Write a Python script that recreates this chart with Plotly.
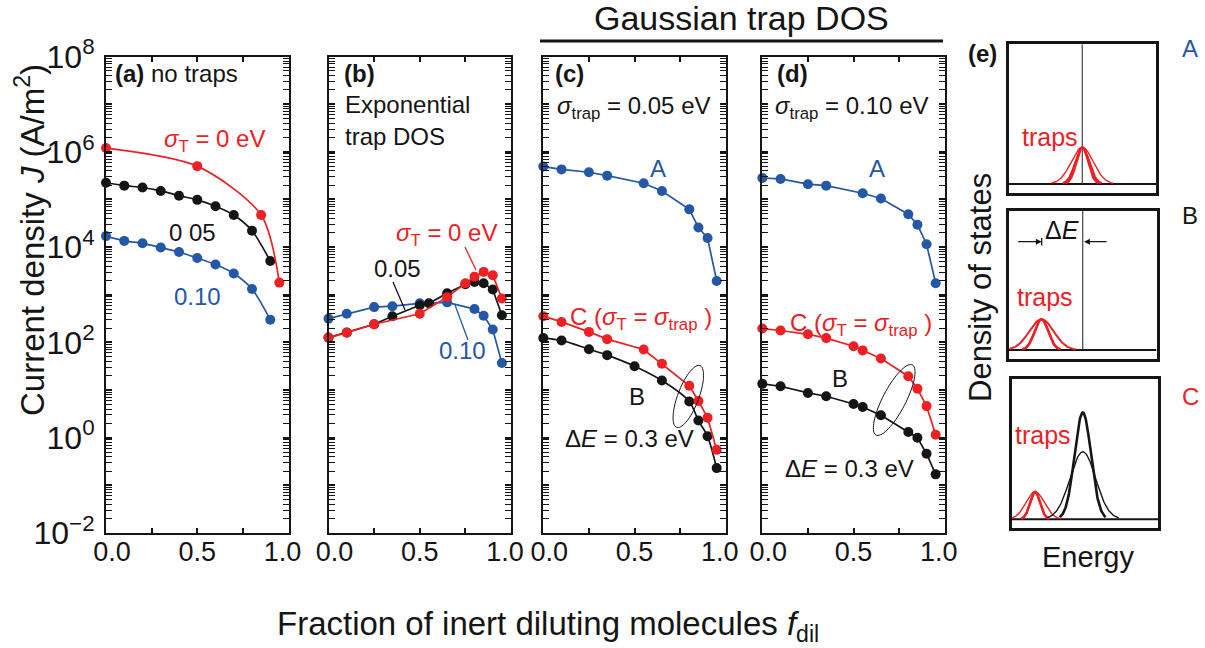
import numpy as np
import plotly.graph_objects as go

W, H = 1205, 648
FONT = "Liberation Sans, Arial, Helvetica, sans-serif"
RED = "#ED2024"
BLUE = "#2457A6"
BLACK = "#151515"

# ---------------- data: current density J (A/m^2) vs dilution fraction ----------------
# (a) no traps
f_a_red = [0.0, 0.5, 0.85, 0.95]
J_a_red = [1.2e6, 5.0e5, 4.7e4, 1.8e3]
f_a = [0.0, 0.1, 0.2, 0.3, 0.4, 0.5, 0.6, 0.7, 0.8, 0.9]
J_a_black = [2.24e5, 1.95e5, 1.78e5, 1.51e5, 1.20e5, 9.8e4, 7.2e4, 4.7e4, 2.2e4, 5.1e3]
J_a_blue = [1.70e4, 1.35e4, 1.20e4, 9.8e3, 7.9e3, 5.9e3, 4.3e3, 2.8e3, 1.32e3, 3.0e2]

# (b) exponential trap DOS
f_b_red = [0.0, 0.1, 0.25, 0.5, 0.65, 0.75, 0.8, 0.85, 0.9, 0.95]
J_b_red = [126, 160, 240, 398, 891, 1740, 2400, 3020, 2570, 832]
f_b_black = [0.0, 0.1, 0.25, 0.35, 0.5, 0.55, 0.65, 0.75, 0.8, 0.85, 0.9, 0.95]
J_b_black = [126, 162, 240, 355, 603, 661, 1070, 1660, 1860, 1740, 1290, 372]
f_b_blue = [0.0, 0.1, 0.25, 0.35, 0.5, 0.65, 0.8, 0.85, 0.9, 0.95]
J_b_blue = [316, 398, 550, 575, 661, 692, 501, 363, 186, 37]

# (c) Gaussian traps, sigma_trap = 0.05 eV
f_c_A = [0.0, 0.1, 0.25, 0.35, 0.55, 0.65, 0.8, 0.85, 0.9, 0.95]
J_c_A = [4.9e5, 4.27e5, 3.72e5, 3.16e5, 2.19e5, 1.51e5, 6.2e4, 2.57e4, 1.55e4, 1.95e3]
f_c_C = [0.0, 0.1, 0.25, 0.35, 0.55, 0.65, 0.8, 0.85, 0.9, 0.95]
J_c_C = [355, 269, 166, 117, 71, 35.5, 12.3, 5.9, 2.63, 0.56]
f_c_B = [0.0, 0.1, 0.25, 0.35, 0.5, 0.65, 0.8, 0.85, 0.9, 0.95]
J_c_B = [123, 110, 72, 54, 31.6, 15.8, 5.75, 2.29, 1.07, 0.23]

# (d) Gaussian traps, sigma_trap = 0.10 eV
f_d_A = [0.0, 0.1, 0.25, 0.35, 0.55, 0.65, 0.8, 0.85, 0.9, 0.95]
J_d_A = [2.82e5, 2.69e5, 2.09e5, 1.95e5, 1.35e5, 1.05e5, 4.9e4, 2.95e4, 1.15e4, 1.74e3]
f_d = [0.0, 0.1, 0.25, 0.35, 0.5, 0.55, 0.65, 0.8, 0.85, 0.9, 0.95]
J_d_C = [195, 178, 148, 123, 83, 68, 46, 19.5, 10.7, 4.6, 1.15]
J_d_B = [13.5, 12.0, 8.7, 7.4, 5.1, 4.4, 2.95, 1.32, 1.0, 0.46, 0.17]

# axis ticks
x_tickvals = [0.0, 0.25, 0.5, 0.75, 1.0]
x_label_vals = [0.0, 0.5, 1.0]
x_label_text = ["0.0", "0.5", "1.0"]
x_label_shift = [6, 0, -6]   # end labels sit just inside the frame
y_exponents = list(range(-2, 9))
y_tickvals = [10.0 ** e for e in y_exponents]
y_ticktext = [("10<sup>%s</sup>" % str(e).replace("-", "\u2212")) if e % 2 == 0 else ""
              for e in y_exponents]
y_minor = [k * 10.0 ** e for e in range(-2, 8) for k in range(2, 10)]

# (e) schematic densities of states (normalised energy, peak heights)
trap_center = [0.50, 0.22, 0.16]
trap_height = [0.262, 0.221, 0.196]
trap_sigma_narrow = [0.040, 0.046, 0.034]
trap_sigma_mid = [0.047, 0.046, 0.034]
trap_sigma_wide = [0.075, 0.083, 0.063]
host_center_C = 0.486
host_height_C = [0.763, 0.482]
host_sigma_C = [0.056, 0.0875]
level_E = [0.50, 0.50]  # transport level in boxes A and B

# ---------------- layout geometry ----------------
panel_left = [106.0, 328.5, 543.3, 762.3]
panel_w = 182.5
panel_top, panel_bot = 56.5, 533.0


def px(x):
    return x / W


def py(y):
    return 1 - y / H


fig = go.Figure()
layout = dict(
    width=W, height=H, margin=dict(l=0, r=0, t=0, b=0, autoexpand=False),
    paper_bgcolor="white", plot_bgcolor="white", showlegend=False,
    font=dict(family=FONT, color=BLACK),
)

XFONT = dict(size=27, family=FONT, color=BLACK)
label_axes = []
next_axis = 8
for i, left in enumerate(panel_left):
    n = "" if i == 0 else str(i + 1)
    dom = [px(left), px(left + panel_w)]
    layout["xaxis" + n] = dict(
        domain=dom, range=[0, 1], anchor="y" + n,
        tickmode="array", tickvals=x_tickvals, showticklabels=False,
        ticks="inside", ticklen=5, tickwidth=1.5, tickcolor=BLACK,
        showline=True, linewidth=2, linecolor=BLACK, mirror="allticks",
        showgrid=False, zeroline=False, automargin=False,
    )
    # tick labels, each on a label-only overlay axis so it can be nudged
    for v, txt, shift in zip(x_label_vals, x_label_text, x_label_shift):
        layout["xaxis%d" % next_axis] = dict(
            domain=dom, range=[0, 1], anchor="y" + n, overlaying="x" + n,
            side="bottom", tickmode="array", tickvals=[v], ticktext=[txt],
            ticks="", ticklabelshift=shift, showline=False, showgrid=False,
            zeroline=False, tickfont=XFONT, automargin=False, fixedrange=True)
        label_axes.append(("x%d" % next_axis, "y" + n))
        next_axis += 1
    layout["yaxis" + n] = dict(
        domain=[py(panel_bot), py(panel_top)], type="log", range=[-2, 8],
        anchor="x" + n, tickmode="array", tickvals=y_tickvals,
        ticktext=y_ticktext, showticklabels=(i == 0),
        ticks="inside", ticklen=6, tickwidth=1.5, tickcolor=BLACK,
        minor=dict(tickmode="array", tickvals=y_minor, ticks="inside",
                   ticklen=3, tickwidth=1, tickcolor=BLACK, showgrid=False),
        showline=True, linewidth=2, linecolor=BLACK, mirror="allticks",
        showgrid=False, zeroline=False, tickfont=dict(size=32, family=FONT),
        ticklabelstandoff=3, automargin=False,
    )

# empty traces so the label-only axes are laid out
for xa, ya in label_axes:
    fig.add_trace(go.Scatter(x=[], y=[], xaxis=xa, yaxis=ya, mode="lines",
                             hoverinfo="skip"))

# (e) boxes
box_x = [(1008.5, 1156.0), (1009.0, 1156.5), (1011.7, 1158.0)]
box_y = [(44.3, 193.0), (211.0, 359.0), (379.3, 528.3)]
for j in range(3):
    n = str(5 + j)
    layout["xaxis" + n] = dict(
        domain=[px(box_x[j][0]), px(box_x[j][1])], range=[0, 1], anchor="y" + n,
        showticklabels=False, ticks="", showline=True, linewidth=2.5,
        linecolor=BLACK, mirror=True, showgrid=False, zeroline=False,
        automargin=False)
    layout["yaxis" + n] = dict(
        domain=[py(box_y[j][1]), py(box_y[j][0])], range=[-0.065, 1], anchor="x" + n,
        showticklabels=False, ticks="", showline=True, linewidth=2.5,
        linecolor=BLACK, mirror=True, showgrid=False, zeroline=False,
        automargin=False)


def series(x, y, color, ax, shape="linear"):
    fig.add_trace(go.Scatter(
        x=x, y=y, mode="lines+markers", xaxis="x" + ax, yaxis="y" + ax,
        line=dict(color=color, width=1.7, shape=shape, smoothing=0.8),
        marker=dict(color=color, size=10), cliponaxis=False, hoverinfo="skip"))


series(f_a, J_a_blue, BLUE, "", "spline")
series(f_a, J_a_black, BLACK, "", "spline")
series(f_a_red, J_a_red, RED, "", "spline")

series(f_b_blue, J_b_blue, BLUE, "2")
series(f_b_black, J_b_black, BLACK, "2")
series(f_b_red, J_b_red, RED, "2")

series(f_c_A, J_c_A, BLUE, "3")
series(f_c_B, J_c_B, BLACK, "3", "spline")
series(f_c_C, J_c_C, RED, "3")

series(f_d_A, J_d_A, BLUE, "4")
series(f_d, J_d_B, BLACK, "4")
series(f_d, J_d_C, RED, "4")


def gauss_curve(center, sigma, height, ax, color, width):
    x = np.linspace(center - 2.8 * sigma, center + 2.8 * sigma, 121)
    x = x[(x >= 0) & (x <= 1)]
    y = height * np.exp(-0.5 * ((x - center) / sigma) ** 2)
    fig.add_trace(go.Scatter(x=x, y=y, mode="lines", xaxis="x" + ax, yaxis="y" + ax,
                             line=dict(color=color, width=width), hoverinfo="skip"))


for j in range(3):
    ax = str(5 + j)
    # baseline
    fig.add_trace(go.Scatter(x=[0, 1], y=[0, 0], mode="lines", xaxis="x" + ax,
                             yaxis="y" + ax, line=dict(color=BLACK, width=2),
                             hoverinfo="skip"))
    if j < 2:
        fig.add_trace(go.Scatter(x=[level_E[j], level_E[j]], y=[0, 1], mode="lines",
                                 xaxis="x" + ax, yaxis="y" + ax,
                                 line=dict(color="#333333", width=1.1), hoverinfo="skip"))
    gauss_curve(trap_center[j], trap_sigma_wide[j], trap_height[j], ax, RED,
                1.4 if j != 1 else 2.0)
    gauss_curve(trap_center[j], trap_sigma_mid[j], trap_height[j], ax, RED, 2.2)
    gauss_curve(trap_center[j], trap_sigma_narrow[j], trap_height[j], ax, RED, 2.4)

gauss_curve(host_center_C, host_sigma_C[1], host_height_C[1], "7", BLACK, 1.4)
gauss_curve(host_center_C, host_sigma_C[0], host_height_C[0], "7", BLACK, 2.6)

# ---------------- text ----------------
ann = []


def text(x, y, s, color=BLACK, size=24, xanchor="center", angle=0):
    ann.append(dict(x=px(x), y=py(y), xref="paper", yref="paper", text=s,
                    showarrow=False, xanchor=xanchor, yanchor="middle",
                    textangle=angle, font=dict(size=size, color=color, family=FONT)))


sT = "<i>\u03c3</i><sub>T</sub>"
strap = "<i>\u03c3</i><sub>trap</sub>"

text(113, 74, "<b>(a)</b> no traps", xanchor="left")
text(214, 141, sT + " = 0 eV", RED)
text(192, 232, "0 05")
text(197, 297, "0.10", BLUE)

text(342, 74, "<b>(b)</b>", xanchor="left")
text(343, 105, "Exponential", xanchor="left")
text(343, 136, "trap DOS", xanchor="left")
text(446, 234, sT + " = 0 eV", RED)
text(397, 268, "0.05")
text(462, 350, "0.10", BLUE)

text(553, 74, "<b>(c)</b>", xanchor="left")
text(555, 108, strap + " = 0.05 eV", xanchor="left")
text(658, 168, "A", BLUE)
text(568, 318, "C (" + sT + " = " + strap + " )", RED, xanchor="left")
text(637, 397, "B")
text(563, 438, "\u0394<i>E</i> = 0.3 eV", xanchor="left")

text(775, 74, "<b>(d)</b>", xanchor="left")
text(773, 108, strap + " = 0.10 eV", xanchor="left")
text(877, 168, "A", BLUE)
text(788, 324, "C (" + sT + " = " + strap + " )", RED, xanchor="left")
text(840, 378, "B")
text(783, 468, "\u0394<i>E</i> = 0.3 eV", xanchor="left")

text(982, 53, "<b>(e)</b>")
text(1190, 48, "A", BLUE)
text(1190, 215, "B")
text(1190, 397, "C", RED)
text(1050, 137, "traps", RED, size=25)
text(1045, 297, "traps", RED, size=25)
text(1043, 435, "traps", RED, size=25)
text(1062, 230, "\u0394<i>E</i>", size=25)
text(980, 288, "Density of states", size=31, angle=-90)
text(1088, 557, "Energy", size=29)

text(741, 18, "Gaussian trap DOS", size=34)
text(548, 626, "Fraction of inert diluting molecules <i>f</i><sub>dil</sub>", size=33)
text(30, 240, "Current density <i>J</i> (A/m<sup>2</sup>)", size=33, angle=-90)

# Delta E arrows in box B
for tip, off in [(1041.7, -25), (1084.0, 24)]:
    ann.append(dict(x=px(tip), y=py(241.7), xref="paper", yref="paper", text="",
                    showarrow=True, ax=off, ay=0, arrowhead=2, arrowsize=0.9,
                    arrowwidth=1.3, arrowcolor=BLACK))

shapes = []
# heading rule over panels (c) and (d)
shapes.append(dict(type="line", xref="paper", yref="paper", x0=px(540), x1=px(943),
                   y0=py(41), y1=py(41), line=dict(color=BLACK, width=3)))
# stop bar at the trap centre
shapes.append(dict(type="line", xref="paper", yref="paper", x0=px(1041.7), x1=px(1041.7),
                   y0=py(238), y1=py(245.5), line=dict(color=BLACK, width=1.3)))
# leader lines in (b)
for (x0, y0, x1, y1, c) in [(393, 282, 405, 310, BLACK), (465, 247, 476, 270, RED),
                            (455, 305, 468, 340, BLUE)]:
    shapes.append(dict(type="line", xref="paper", yref="paper", x0=px(x0), y0=py(y0),
                       x1=px(x1), y1=py(y1), line=dict(color=c, width=1.3)))


def ellipse_path(cx, cy, a, b, tilt_deg):
    t = np.linspace(0, 2 * np.pi, 73)
    th = np.radians(tilt_deg)
    ux, uy = np.sin(th), -np.cos(th)
    vx, vy = np.cos(th), np.sin(th)
    xs = cx + a * np.cos(t) * ux + b * np.sin(t) * vx
    ys = cy + a * np.cos(t) * uy + b * np.sin(t) * vy
    pts = ["%.5f,%.5f" % (px(x), py(y)) for x, y in zip(xs, ys)]
    return "M " + " L ".join(pts) + " Z"


for (cx, cy, a, b, tilt) in [(688.3, 396.5, 33, 10.5, 20.7), (894.2, 400, 39.5, 11.5, 27.4)]:
    shapes.append(dict(type="path", xref="paper", yref="paper",
                       path=ellipse_path(cx, cy, a, b, tilt),
                       line=dict(color=BLACK, width=1)))

layout["annotations"] = ann
layout["shapes"] = shapes
fig.update_layout(**layout)
fig.write_html("out.html")
